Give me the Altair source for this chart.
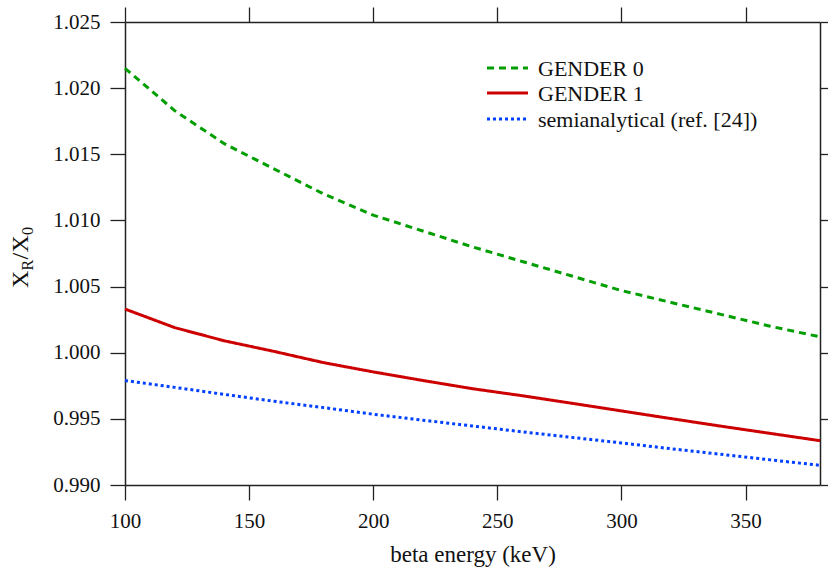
import altair as alt
import pandas as pd

# ---- data ----
energy = [100, 120, 140, 160, 180, 200, 220, 240, 260, 280, 300, 320, 340, 360, 380]
gender0 = [1.0215, 1.0183, 1.0158, 1.0139, 1.0120, 1.0104, 1.0092, 1.0080, 1.0069,
           1.0058, 1.0047, 1.0038, 1.0029, 1.0020, 1.0012]
gender1 = [1.0033, 1.0019, 1.0009, 1.0001, 0.99925, 0.99855, 0.9979, 0.99728, 0.99675,
           0.99618, 0.9956, 0.99502, 0.99445, 0.9939, 0.99335]
semi = [0.9979, 0.99738, 0.99685, 0.99633, 0.99585, 0.99535, 0.9949, 0.99446, 0.99402,
        0.9936, 0.99318, 0.99274, 0.99232, 0.9919, 0.99149]
series_names = ["GENDER 0", "GENDER 1", "semianalytical (ref. [24])"]
series_colors = ["#009e00", "#cc0000", "#0040ff"]
series_dash = [[7, 5], [1, 0], [3, 3]]
x_ticks = [100, 150, 200, 250, 300, 350]
y_ticks = [0.990, 0.995, 1.000, 1.005, 1.010, 1.015, 1.020, 1.025]

FONT = "Liberation Serif"
W, H = 695, 463

rows = []
for name, vals in zip(series_names, [gender0, gender1, semi]):
    for e, v in zip(energy, vals):
        rows.append({"energy": e, "value": v, "series": name})
df = pd.DataFrame(rows)

xs = alt.Scale(domain=[100, 380], nice=False, zero=False)
ys = alt.Scale(domain=[0.990, 1.025], nice=False, zero=False)

common_axis = dict(tickSize=15, tickWidth=1.3, tickColor="#222", domainColor="#222",
                   domainWidth=1.5, grid=False, labelFont=FONT, labelFontSize=21,
                   labelColor="#111", labelFlush=False, labelOverlap=False)

lines = alt.Chart(df).mark_line(strokeWidth=3).encode(
    x=alt.X("energy:Q", scale=xs,
            axis=alt.Axis(orient="bottom", values=x_ticks, labelPadding=10,
                          title="beta energy (keV)", titleFont=FONT, titleFontSize=23,
                          titleFontWeight="normal", titleColor="#111", titlePadding=12,
                          **common_axis)),
    y=alt.Y("value:Q", scale=ys,
            axis=alt.Axis(orient="left", values=y_ticks, format=".3f", labelPadding=10,
                          title=None, **common_axis)),
    color=alt.Color("series:N", scale=alt.Scale(domain=series_names, range=series_colors),
                    legend=None),
    strokeDash=alt.StrokeDash("series:N",
                              scale=alt.Scale(domain=series_names, range=series_dash),
                              legend=None),
    detail="series:N",
)

frame = alt.Chart(df).mark_line(opacity=0).encode(
    x=alt.X("energy:Q", scale=xs,
            axis=alt.Axis(orient="top", values=x_ticks, labels=False, title=None,
                          **common_axis)),
    y=alt.Y("value:Q", scale=ys,
            axis=alt.Axis(orient="right", values=y_ticks, labels=False, title=None,
                          **common_axis)),
    detail="series:N",
)

one = pd.DataFrame({"a": [0]})
layers = [lines, frame]

# manual legend
leg_y = [46, 71, 97]
for name, col, dash, yy in zip(series_names, series_colors, series_dash, leg_y):
    layers.append(alt.Chart(one).mark_rule(color=col, strokeWidth=3, strokeDash=dash).encode(
        x=alt.value(362), x2=alt.value(403), y=alt.value(yy)))
    layers.append(alt.Chart(one).mark_text(font=FONT, fontSize=22, color="#111",
                                           align="left", baseline="middle").encode(
        x=alt.value(413), y=alt.value(yy + 1), text=alt.value(name)))

# y-axis title X_R/X_0 built from pieces (rotated)
pieces = [("X", 24, 0, 17.5), ("R", 16, 5, 11), ("/", 24, 0, 7), ("X", 24, 0, 17.5), ("0", 16, 5, 8.5)]
ystart = 266
base_x = -97
for txt, fs, shift, wdt in pieces:
    layers.append(alt.Chart(one).mark_text(font=FONT, fontSize=fs, color="#111", angle=270,
                                           align="left", baseline="alphabetic").encode(
        x=alt.value(base_x + shift), y=alt.value(ystart), text=alt.value(txt)))
    ystart -= wdt

chart = alt.layer(*layers).resolve_scale(x="independent", y="independent").properties(
    width=W, height=H,
    autosize=alt.AutoSizeParams(type="none"),
    padding={"left": 125, "top": 22, "right": 8, "bottom": 87},
    background="white",
).configure_view(stroke=None)

chart.save("out.html", embed_options={"renderer": "svg", "actions": False})
